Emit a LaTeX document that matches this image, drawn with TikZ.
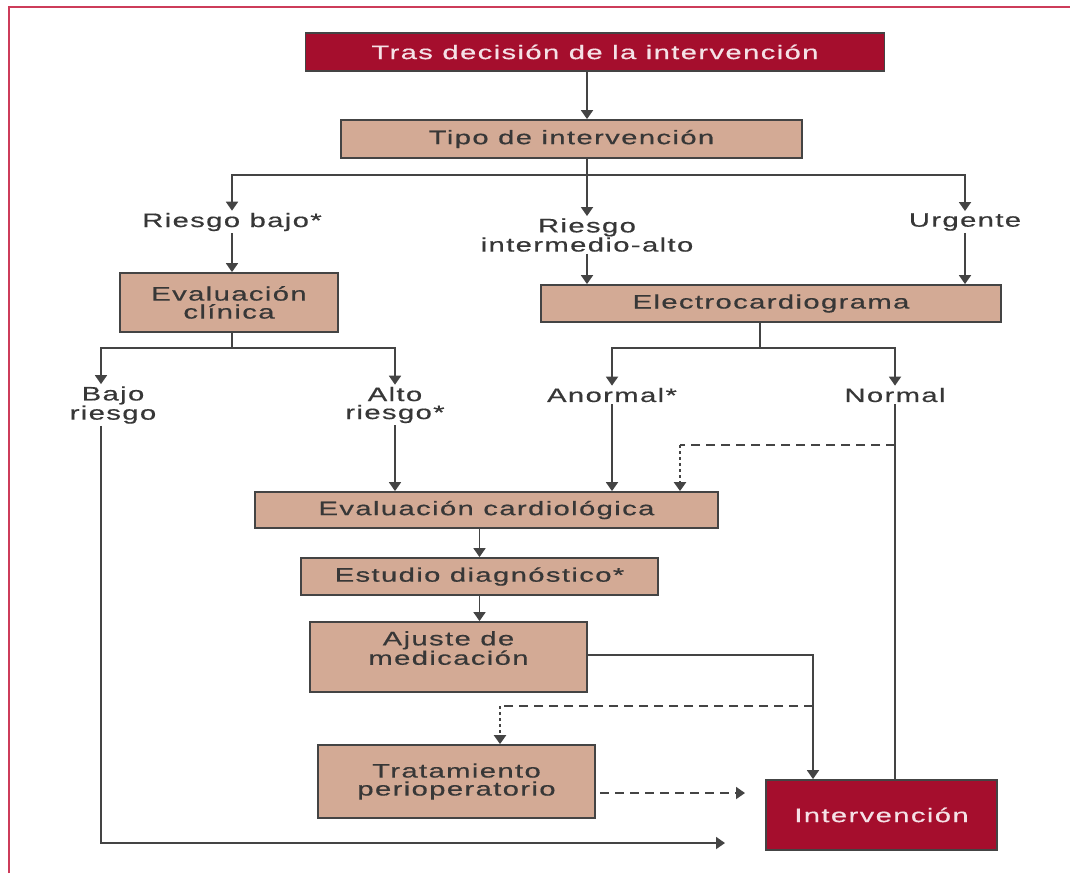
\documentclass[tikz,border=0pt]{standalone}
\usepackage{fontspec}
\setmainfont{Liberation Sans}[FakeStretch=1.5,LetterSpace=7,FakeBold=0.5]
\usetikzlibrary{positioning, arrows.meta}

\definecolor{rojo}{RGB}{165,14,45}
\definecolor{cajaTan}{RGB}{211,170,149}
\definecolor{trazo}{RGB}{68,68,68}
\definecolor{texto}{RGB}{55,55,55}
\definecolor{marco}{RGB}{205,60,90}

\tikzset{
  caja/.style={draw=trazo, line width=1.8, fill=cajaTan, text=texto, align=center, inner sep=0},
  cajaroja/.style={caja, fill=rojo, text={rgb,255:red,245;green,225;blue,230}},
  etiqueta/.style={text=texto, align=center, inner sep=2},
  conector/.style={draw=trazo, line width=1.8},
  flecha/.style={conector, -{Triangle[length=9pt,width=12pt]}},
  discont/.style={conector, dash pattern=on 9pt off 6pt},
  punteado/.style={conector, line width=2.4, dash pattern=on 3pt off 3pt}
}

\begin{document}
\begin{tikzpicture}[x=1pt,y=1pt,yscale=-1,font=\fontsize{19.5}{18}\selectfont]
\useasboundingbox (0,0) rectangle (1070,873);

% marco
\draw[marco, line width=1.6] (9,873) -- (9,7) -- (1070,7);

% cajas
\node[cajaroja, minimum width=579, minimum height=38] (tras) at (595,52) {Tras decisión de la intervención};
\node[caja, minimum width=461, minimum height=38] (tipo) at (571.5,139) {Tipo de intervención};
\node[caja, minimum width=218, minimum height=59] (evcli) at (229,302.5) {Evaluación\\clínica};
\node[caja, minimum width=460, minimum height=37] (ecg) at (771,303.5) {Electrocardiograma};
\node[caja, minimum width=463, minimum height=36] (evcar) at (486.5,510) {Evaluación cardiológica};
\node[caja, minimum width=357, minimum height=37] (estudio) at (479.5,576.5) {Estudio diagnóstico*};
\node[caja, minimum width=277, minimum height=70] (ajuste) at (448.5,657) {Ajuste de\\medicación\\[0pt]};
\node[caja, minimum width=277, minimum height=73] (trat) at (456.5,781.5) {Tratamiento\\perioperatorio};
\node[cajaroja, minimum width=231, minimum height=70] (interv) at (881.5,815) {Intervención};

% etiquetas
\node[etiqueta] (rbajo) at (232,222) {Riesgo bajo*};
\node[etiqueta] (rint) at (587,235) {Riesgo\\intermedio-alto};
\node[etiqueta] (urg) at (965,222) {Urgente};
\node[etiqueta] (bajo) at (113,405) {Bajo\\riesgo};
\node[etiqueta] (alto) at (395,405) {Alto\\riesgo*};
\node[etiqueta] (anormal) at (612,395) {Anormal*};
\node[etiqueta] (normal) at (895,395) {Normal};

% puntos de paso
\coordinate (s1) at (587,175);
\coordinate (s2) at (232,348);
\coordinate (bl) at (101,348);
\coordinate (s3) at (760,348);
\coordinate (d1) at (680,445);
\coordinate (c4) at (813,655);
\coordinate (d2) at (500,706);
\coordinate (t1) at (600,793);
\coordinate (t2) at (745,793);
\coordinate (b3) at (725,843);

% conectores
\draw[flecha] (tras.south -| s1) -- (tipo.north -| s1);
\draw[conector] (tipo.south -| s1) -- (s1);
\draw[flecha] (s1) -- (rint.north);
\draw[flecha] (s1) -| (rbajo.north);
\draw[flecha] (s1) -| (urg.north);
\draw[flecha] (rbajo.south) -- (rbajo.south |- evcli.north);
\draw[flecha] (rint.south) -- (rint.south |- ecg.north);
\draw[flecha] (urg.south) -- (urg.south |- ecg.north);

\draw[conector] (evcli.south -| s2) -- (s2);
\draw[flecha] (s2) -| (alto.north);
\draw[flecha] (s2) -| (bl |- bajo.north);
\draw[conector] (ecg.south -| s3) -- (s3);
\draw[flecha] (s3) -| (anormal.north);
\draw[flecha] (s3) -| (normal.north);

\draw[flecha] (alto.south) -- (alto.south |- evcar.north);
\draw[flecha] (anormal.south) -- (anormal.south |- evcar.north);
\draw[conector] (normal.south) -- (normal.south |- interv.north);
\draw[discont] (normal.south |- d1) -- (d1);
\draw[punteado, -{Triangle[length=9pt,width=12pt]}] (d1) -- (d1 |- evcar.north);

\draw[flecha] (estudio.north |- evcar.south) -- (estudio.north);
\draw[flecha] (estudio.south) -- (estudio.south |- ajuste.north);
\draw[flecha] (ajuste.east |- c4) -| (c4 |- interv.north);
\draw[discont] (c4 |- d2) -- (d2);
\draw[punteado, -{Triangle[length=9pt,width=12pt]}] (d2) -- (d2 |- trat.north);
\draw[discont, -{Triangle[length=9pt,width=12pt]}] (t1) -- (t2);
\draw[flecha] (bl |- bajo.south) -- (bl |- b3) -- (b3);

\end{tikzpicture}
\end{document}
